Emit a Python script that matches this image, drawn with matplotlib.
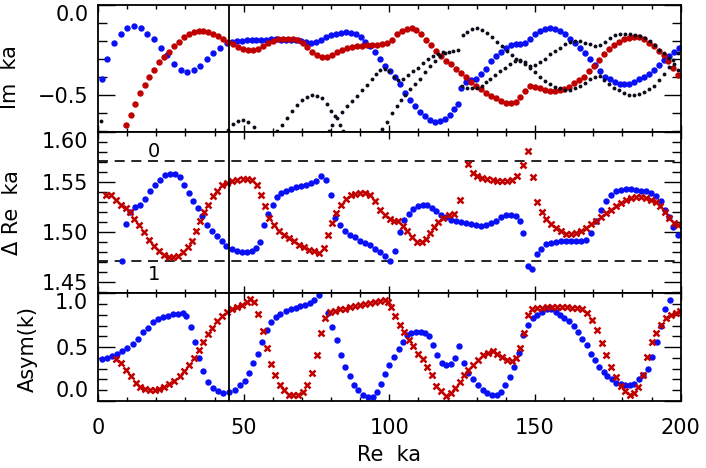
import matplotlib
matplotlib.use("Agg")
import matplotlib.pyplot as plt
from matplotlib.ticker import MultipleLocator

plt.rcParams['font.family'] = ['DejaVu Sans']

# ---- data: (Re ka, value) per resonance ----
# top panel: Im ka
im_blue = [
    (1.3, -0.41), (3.2, -0.30), (5.5, -0.21), (7.8, -0.16), (10.1, -0.13), (12.4, -0.12),
    (14.6, -0.13), (16.9, -0.16), (19.2, -0.19), (21.5, -0.24), (23.8, -0.28), (26.1, -0.33),
    (28.4, -0.36), (30.6, -0.375), (32.8, -0.365), (35.0, -0.34), (37.3, -0.30), (39.6, -0.27),
    (41.9, -0.24), (44.2, -0.215), (45.9, -0.205), (47.6, -0.20), (49.3, -0.20), (51.0, -0.198),
    (52.7, -0.197), (54.4, -0.196), (56.1, -0.195), (57.8, -0.194), (59.5, -0.193), (61.2, -0.193),
    (62.9, -0.194), (64.6, -0.195), (66.3, -0.196), (68.0, -0.198), (69.7, -0.20), (71.4, -0.205),
    (73.1, -0.21), (74.8, -0.205), (76.5, -0.195), (78.2, -0.18), (79.9, -0.17), (81.6, -0.16),
    (83.3, -0.155), (85.0, -0.15), (86.7, -0.155), (88.4, -0.165), (90.1, -0.18), (91.8, -0.205),
    (93.5, -0.23), (95.2, -0.26), (96.9, -0.30), (98.6, -0.34), (100.3, -0.37), (102.0, -0.40),
    (103.7, -0.44), (105.4, -0.49), (107.1, -0.53), (108.8, -0.565), (110.5, -0.595), (112.2, -0.62),
    (113.9, -0.64), (115.6, -0.65), (117.3, -0.645), (119.0, -0.635), (120.7, -0.61), (122.3, -0.58),
    (123.4, -0.55), (124.6, -0.46), (126.3, -0.43), (128.0, -0.42), (129.7, -0.41), (131.4, -0.385),
    (133.1, -0.355), (134.8, -0.315), (136.5, -0.285), (138.2, -0.26), (139.9, -0.24), (141.6, -0.222),
    (143.3, -0.218), (145.0, -0.218), (146.7, -0.212), (148.4, -0.19), (150.1, -0.165), (151.8, -0.148),
    (153.5, -0.137), (155.2, -0.131), (156.9, -0.136), (158.6, -0.146), (160.3, -0.165), (162.0, -0.19),
    (163.7, -0.215), (165.4, -0.24), (167.1, -0.27), (168.8, -0.30), (170.5, -0.335), (172.2, -0.37),
    (173.9, -0.40), (175.6, -0.415), (177.3, -0.43), (179.0, -0.44), (180.7, -0.44), (182.4, -0.44),
    (184.1, -0.43), (185.8, -0.415), (187.5, -0.40), (189.2, -0.385), (190.9, -0.36), (192.6, -0.335),
    (194.3, -0.305), (196.0, -0.285), (197.7, -0.26), (199.4, -0.24),
]
im_red = [
    (9.6, -0.67), (11.2, -0.61), (12.8, -0.55), (14.4, -0.49), (16.0, -0.445), (17.6, -0.40),
    (19.2, -0.36), (20.9, -0.32), (22.6, -0.29), (24.3, -0.26), (26.0, -0.23), (27.7, -0.205),
    (29.4, -0.18), (31.1, -0.163), (32.8, -0.152), (34.5, -0.146), (36.2, -0.146), (37.9, -0.152),
    (39.6, -0.163), (41.3, -0.175), (43.0, -0.19), (44.7, -0.205), (46.4, -0.22), (48.1, -0.235),
    (49.8, -0.245), (51.5, -0.253), (53.2, -0.253), (54.9, -0.245), (56.6, -0.232), (58.3, -0.215),
    (60.0, -0.20), (61.7, -0.193), (63.4, -0.189), (65.1, -0.188), (66.8, -0.19), (68.5, -0.198),
    (70.2, -0.212), (71.9, -0.235), (73.6, -0.26), (75.3, -0.28), (77.0, -0.29), (78.7, -0.288),
    (80.4, -0.278), (82.1, -0.265), (83.8, -0.252), (85.5, -0.243), (87.2, -0.236), (88.9, -0.232),
    (90.6, -0.229), (92.3, -0.226), (94.0, -0.224), (95.7, -0.222), (97.4, -0.218), (99.1, -0.212),
    (100.8, -0.195), (102.5, -0.165), (104.2, -0.145), (105.9, -0.133), (107.6, -0.13), (109.3, -0.14),
    (111.0, -0.165), (112.7, -0.195), (114.4, -0.225), (116.1, -0.255), (117.8, -0.285), (119.5, -0.31),
    (121.2, -0.33), (122.9, -0.355), (124.6, -0.38), (126.3, -0.40), (128.0, -0.43), (129.7, -0.45),
    (131.4, -0.47), (133.1, -0.49), (134.8, -0.505), (136.5, -0.52), (138.2, -0.535), (139.9, -0.545),
    (141.6, -0.545), (143.3, -0.54), (145.0, -0.515), (146.6, -0.48), (148.2, -0.45), (149.9, -0.455),
    (151.6, -0.465), (153.3, -0.473), (155.0, -0.478), (156.7, -0.48), (158.4, -0.476), (160.1, -0.467),
    (161.8, -0.455), (163.5, -0.437), (165.2, -0.42), (166.9, -0.40), (168.6, -0.37), (170.3, -0.34),
    (172.0, -0.305), (173.7, -0.275), (175.4, -0.248), (177.1, -0.225), (178.8, -0.205), (180.5, -0.192),
    (182.2, -0.183), (183.9, -0.18), (185.6, -0.18), (187.3, -0.19), (189.0, -0.21), (190.7, -0.23),
    (192.4, -0.255), (194.1, -0.28), (195.8, -0.31), (197.5, -0.35), (199.2, -0.39),
]
# other (black) branches of Im ka
im_black_a = [(0.9, -0.645)]
im_black_b = [(44.5, -0.695), (46.2, -0.66), (48.0, -0.645), (49.8, -0.64), (51.6, -0.65), (53.4, -0.68)]
im_black_c = [
    (61.4, -0.70), (63.0, -0.67), (64.7, -0.63), (66.5, -0.59), (68.2, -0.555), (69.9, -0.53),
    (71.6, -0.51), (73.4, -0.50), (75.1, -0.505), (76.8, -0.52), (78.5, -0.55), (80.0, -0.59),
    (81.4, -0.62), (83.1, -0.67), (84.2, -0.70),
]
im_black_d = [
    (79.2, -0.70), (80.4, -0.67), (82.0, -0.63), (83.7, -0.595), (85.4, -0.565), (87.1, -0.535),
    (88.8, -0.505), (90.5, -0.475), (92.2, -0.445), (93.9, -0.415), (95.5, -0.385), (96.9, -0.36),
    (98.5, -0.357), (100.0, -0.37), (101.5, -0.40), (103.1, -0.42), (104.8, -0.41), (106.5, -0.39),
    (108.2, -0.37), (110.0, -0.35), (111.7, -0.325), (113.4, -0.30), (115.1, -0.283), (116.8, -0.272),
    (118.5, -0.265), (120.3, -0.26), (122.0, -0.257), (123.7, -0.25),
]
im_black_e = [
    (97.4, -0.69), (99.1, -0.65), (100.8, -0.60), (102.5, -0.56), (103.9, -0.53), (105.4, -0.50),
    (107.1, -0.47), (108.8, -0.44), (110.5, -0.41), (112.2, -0.375), (114.0, -0.34), (115.7, -0.31),
    (117.4, -0.285), (119.1, -0.27),
]
im_black_f = [
    (125.4, -0.17), (126.8, -0.15), (128.3, -0.135), (130.0, -0.13), (131.7, -0.138), (133.4, -0.158),
    (135.1, -0.18), (136.8, -0.205), (138.6, -0.23), (140.3, -0.255), (142.0, -0.28), (143.5, -0.30),
    (144.9, -0.31), (146.6, -0.33), (148.3, -0.35), (150.0, -0.375), (151.8, -0.40), (153.5, -0.424),
    (155.2, -0.44), (156.9, -0.455), (158.6, -0.465), (160.3, -0.472), (162.0, -0.475), (163.7, -0.465),
    (165.5, -0.45), (167.2, -0.435), (168.9, -0.415), (170.6, -0.40), (172.2, -0.398), (173.8, -0.42),
    (175.5, -0.44), (177.2, -0.46), (178.9, -0.475), (180.6, -0.49), (182.4, -0.50), (184.1, -0.50),
    (185.8, -0.495), (187.5, -0.485), (189.2, -0.47), (190.9, -0.45), (192.6, -0.42), (194.3, -0.385),
    (195.9, -0.345), (197.5, -0.305), (199.0, -0.27),
]
im_black_g = [
    (124.8, -0.45), (126.5, -0.46), (128.3, -0.465), (130.0, -0.46), (131.7, -0.45), (133.2, -0.43),
    (134.6, -0.41), (136.3, -0.39), (138.0, -0.37), (139.7, -0.35), (141.5, -0.33), (143.2, -0.31),
    (144.9, -0.305), (146.6, -0.32), (148.3, -0.34), (150.0, -0.335), (151.8, -0.32), (153.5, -0.30),
    (155.2, -0.276), (156.9, -0.257), (158.6, -0.239), (160.3, -0.22), (162.0, -0.205), (163.7, -0.20),
    (165.4, -0.202), (167.1, -0.21), (168.9, -0.22), (170.6, -0.232), (172.3, -0.225), (174.0, -0.205),
    (175.7, -0.185), (177.4, -0.17), (179.1, -0.162), (180.8, -0.16), (182.5, -0.163), (184.2, -0.168),
    (185.9, -0.175), (187.6, -0.185), (189.3, -0.20), (191.0, -0.225), (192.7, -0.25), (194.4, -0.27),
    (196.1, -0.295), (197.6, -0.33), (199.0, -0.36),
]

# middle panel: Delta Re ka
dre_blue = [
    (8.2, 1.471), (9.7, 1.508), (11.1, 1.520), (12.8, 1.525), (14.5, 1.527), (16.2, 1.533),
    (17.9, 1.541), (19.6, 1.547), (21.3, 1.552), (23.0, 1.557), (24.7, 1.558), (26.4, 1.558),
    (28.1, 1.555), (29.6, 1.547), (31.3, 1.539), (32.7, 1.531), (34.2, 1.524), (35.8, 1.516),
    (37.3, 1.507), (39.0, 1.501), (40.7, 1.496), (42.4, 1.491), (44.1, 1.486), (45.9, 1.483),
    (47.6, 1.481), (49.3, 1.480), (51.0, 1.480), (52.8, 1.481), (54.2, 1.484), (55.6, 1.490),
    (57.1, 1.507), (58.5, 1.518), (60.0, 1.527), (61.4, 1.535), (62.8, 1.539), (64.5, 1.541),
    (66.2, 1.543), (67.9, 1.545), (69.7, 1.546), (71.4, 1.547), (73.1, 1.549), (74.8, 1.551),
    (76.5, 1.556), (78.3, 1.552), (80.0, 1.537), (81.5, 1.514), (83.1, 1.507), (84.9, 1.501),
    (86.6, 1.497), (88.3, 1.495), (89.9, 1.491), (91.6, 1.489), (93.4, 1.487), (95.1, 1.483),
    (96.8, 1.480), (98.5, 1.476), (100.2, 1.471), (102.0, 1.481), (103.7, 1.500), (105.1, 1.512),
    (106.8, 1.518), (108.2, 1.523), (110.0, 1.526), (111.4, 1.527), (113.0, 1.527), (114.5, 1.524),
    (116.0, 1.521), (117.6, 1.517), (119.3, 1.515), (121.0, 1.512), (122.8, 1.511), (124.5, 1.510),
    (126.2, 1.509), (127.9, 1.508), (129.6, 1.507), (131.3, 1.506), (133.0, 1.507), (134.8, 1.509),
    (136.5, 1.511), (138.2, 1.515), (139.9, 1.517), (141.6, 1.517), (143.4, 1.516), (144.8, 1.511),
    (146.0, 1.499), (147.5, 1.466), (149.1, 1.463), (150.6, 1.478), (152.1, 1.483), (153.7, 1.488),
    (155.4, 1.489), (157.1, 1.490), (158.8, 1.491), (160.5, 1.491), (162.2, 1.491), (163.9, 1.491),
    (165.7, 1.491), (167.4, 1.492), (169.1, 1.499), (170.8, 1.511), (172.5, 1.522), (174.3, 1.531),
    (176.0, 1.537), (177.7, 1.541), (179.4, 1.542), (181.1, 1.543), (182.8, 1.543), (184.6, 1.542),
    (186.3, 1.541), (188.0, 1.541), (189.7, 1.539), (191.4, 1.536), (193.1, 1.531), (194.6, 1.522),
    (196.1, 1.515), (197.5, 1.505), (199.0, 1.497),
]
dre_red = [
    (2.8, 1.537), (4.5, 1.537), (6.2, 1.532), (8.0, 1.527), (9.5, 1.524), (11.0, 1.520),
    (12.5, 1.513), (14.2, 1.507), (15.8, 1.500), (17.5, 1.492), (19.2, 1.486), (20.9, 1.481),
    (22.6, 1.477), (24.2, 1.475), (25.8, 1.475), (27.5, 1.476), (29.2, 1.480), (30.8, 1.485),
    (32.3, 1.491), (33.6, 1.501), (35.0, 1.511), (36.4, 1.520), (37.9, 1.527), (39.4, 1.536),
    (41.0, 1.541), (42.7, 1.547), (44.4, 1.549), (46.1, 1.551), (47.8, 1.552), (49.6, 1.553),
    (51.3, 1.553), (53.0, 1.552), (54.5, 1.547), (55.8, 1.537), (57.3, 1.526), (58.8, 1.514),
    (60.4, 1.507), (62.1, 1.501), (63.9, 1.497), (65.6, 1.494), (67.3, 1.491), (69.0, 1.487),
    (70.7, 1.485), (72.4, 1.482), (74.1, 1.481), (75.9, 1.479), (77.4, 1.484), (78.8, 1.497),
    (80.2, 1.509), (81.6, 1.519), (83.3, 1.527), (85.0, 1.533), (86.7, 1.537), (88.3, 1.538),
    (90.0, 1.539), (91.7, 1.539), (93.4, 1.537), (95.1, 1.531), (96.8, 1.522), (98.5, 1.517),
    (100.1, 1.513), (101.6, 1.511), (103.1, 1.511), (104.6, 1.506), (106.2, 1.501), (107.7, 1.495),
    (109.4, 1.490), (111.1, 1.490), (112.6, 1.493), (114.0, 1.499), (115.4, 1.505), (116.8, 1.510),
    (118.5, 1.514), (120.4, 1.517), (122.2, 1.518), (124.3, 1.532), (127.1, 1.568), (128.6, 1.559),
    (130.2, 1.556), (131.9, 1.554), (133.6, 1.553), (135.4, 1.552), (137.1, 1.551), (138.8, 1.551),
    (140.5, 1.551), (142.2, 1.552), (143.7, 1.556), (145.8, 1.567), (147.5, 1.581), (149.2, 1.555),
    (150.6, 1.530), (152.3, 1.520), (153.8, 1.513), (155.4, 1.508), (157.1, 1.504), (158.8, 1.501),
    (160.5, 1.498), (162.2, 1.498), (163.9, 1.499), (165.7, 1.501), (167.4, 1.504), (169.1, 1.508),
    (170.8, 1.511), (172.5, 1.515), (174.3, 1.519), (176.0, 1.522), (177.7, 1.526), (179.4, 1.529),
    (181.1, 1.532), (182.8, 1.534), (184.6, 1.535), (186.3, 1.535), (188.0, 1.534), (189.7, 1.532),
    (191.4, 1.530), (192.9, 1.526), (194.6, 1.520), (196.1, 1.514), (197.7, 1.509), (199.2, 1.507),
]
dre_levels = [1.5708, 1.4708]
dre_level_names = ['0', '1']
dre_level_label_pos = [(19.2, 1.5806), (19.2, 1.4573)]

# bottom panel: Asym(k)
asym_blue = [
    (1.3, 0.39), (3.0, 0.40), (4.7, 0.42), (6.4, 0.44), (8.2, 0.46), (10.1, 0.49), (11.9, 0.53),
    (13.6, 0.58), (15.3, 0.64), (17.1, 0.68), (18.8, 0.73), (20.5, 0.76), (22.2, 0.78), (24.0, 0.79),
    (25.7, 0.81), (27.4, 0.81), (29.1, 0.815), (30.2, 0.79), (31.8, 0.69), (33.3, 0.55), (34.8, 0.40),
    (36.2, 0.28), (37.9, 0.18), (39.6, 0.12), (41.3, 0.09), (43.0, 0.075), (44.9, 0.08), (47.1, 0.10),
    (48.6, 0.15), (50.3, 0.19), (51.8, 0.26), (53.3, 0.35), (54.9, 0.44), (56.4, 0.55), (57.9, 0.66),
    (59.5, 0.73), (61.1, 0.78), (62.6, 0.81), (64.4, 0.84), (66.1, 0.85), (67.8, 0.86), (69.5, 0.88),
    (71.1, 0.89), (72.8, 0.91), (74.3, 0.94), (75.7, 0.98), (79.0, 0.815), (80.3, 0.69), (82.1, 0.57),
    (83.4, 0.43), (84.9, 0.32), (86.5, 0.23), (87.9, 0.15), (89.4, 0.10), (91.1, 0.056), (92.8, 0.035),
    (94.3, 0.035), (95.7, 0.08), (97.1, 0.16), (98.6, 0.25), (100.0, 0.33), (101.6, 0.41), (103.2, 0.48),
    (104.6, 0.55), (106.0, 0.61), (107.4, 0.63), (109.0, 0.64), (110.8, 0.64), (112.2, 0.63),
    (113.7, 0.60), (115.1, 0.52), (116.5, 0.43), (118.0, 0.35), (119.5, 0.33), (121.1, 0.34),
    (122.5, 0.40), (124.0, 0.51), (125.7, 0.35), (127.1, 0.26), (128.8, 0.20), (130.5, 0.15),
    (132.0, 0.10), (133.6, 0.07), (135.1, 0.056), (136.8, 0.06), (138.3, 0.08), (139.8, 0.15),
    (141.4, 0.22), (142.9, 0.32), (144.5, 0.45), (146.0, 0.61), (147.7, 0.71), (149.2, 0.77),
    (150.8, 0.80), (152.3, 0.83), (154.0, 0.85), (155.5, 0.85), (157.1, 0.83), (158.6, 0.80),
    (160.1, 0.77), (161.6, 0.74), (163.2, 0.70), (164.6, 0.64), (166.2, 0.58), (167.7, 0.52),
    (169.1, 0.44), (170.6, 0.38), (172.1, 0.32), (173.5, 0.27), (174.8, 0.23), (176.3, 0.20),
    (177.8, 0.17), (179.4, 0.16), (180.9, 0.15), (182.6, 0.15), (184.1, 0.155), (185.6, 0.20),
    (187.2, 0.24), (188.7, 0.30), (190.3, 0.41), (191.8, 0.55), (193.1, 0.70), (194.6, 0.85),
    (196.3, 0.94),
]
asym_red = [
    (6.2, 0.39), (8.0, 0.35), (9.7, 0.29), (11.2, 0.23), (12.9, 0.17), (14.4, 0.13), (16.1, 0.11),
    (17.8, 0.10), (19.5, 0.10), (21.1, 0.11), (22.8, 0.13), (24.5, 0.16), (26.2, 0.19), (28.0, 0.23),
    (29.6, 0.28), (31.4, 0.33), (33.1, 0.40), (34.8, 0.47), (36.2, 0.55), (37.6, 0.62), (39.0, 0.68),
    (40.8, 0.74), (42.5, 0.79), (44.2, 0.83), (45.9, 0.855), (47.6, 0.87), (49.3, 0.89), (51.0, 0.92),
    (52.2, 0.95), (53.6, 0.92), (55.0, 0.81), (56.6, 0.65), (58.0, 0.49), (59.3, 0.34), (60.8, 0.24),
    (62.3, 0.15), (64.0, 0.10), (65.6, 0.06), (67.1, 0.055), (68.6, 0.06), (70.2, 0.08), (71.9, 0.15),
    (73.6, 0.26), (75.2, 0.43), (76.5, 0.63), (78.0, 0.77), (79.6, 0.83), (81.4, 0.84), (83.1, 0.85),
    (84.8, 0.855), (86.5, 0.87), (88.2, 0.88), (89.9, 0.89), (91.6, 0.90), (93.4, 0.91), (95.1, 0.92),
    (96.8, 0.93), (98.5, 0.94), (99.7, 0.92), (100.6, 0.87), (102.0, 0.79), (103.7, 0.71),
    (105.1, 0.64), (106.8, 0.57), (108.2, 0.51), (110.0, 0.44), (111.4, 0.39), (113.0, 0.32),
    (114.5, 0.24), (116.0, 0.14), (117.6, 0.09), (119.3, 0.05), (121.1, 0.07), (122.5, 0.12),
    (124.3, 0.18), (125.7, 0.24), (127.1, 0.29), (128.8, 0.33), (130.5, 0.38), (132.0, 0.43),
    (133.7, 0.45), (135.5, 0.46), (136.8, 0.44), (138.6, 0.41), (140.3, 0.38), (142.0, 0.37),
    (143.4, 0.40), (144.8, 0.49), (146.2, 0.63), (147.5, 0.80), (148.9, 0.855), (150.6, 0.86),
    (152.3, 0.86), (154.0, 0.87), (155.7, 0.87), (157.4, 0.87), (159.1, 0.87), (160.9, 0.87),
    (162.6, 0.868), (164.3, 0.86), (166.0, 0.85), (167.7, 0.82), (169.5, 0.75), (171.2, 0.66),
    (172.9, 0.54), (174.4, 0.43), (176.1, 0.32), (177.8, 0.22), (179.4, 0.14), (181.0, 0.09),
    (182.6, 0.055), (184.0, 0.07), (185.5, 0.13), (187.0, 0.24), (188.3, 0.41), (190.0, 0.55),
    (191.5, 0.63), (193.1, 0.71), (194.8, 0.77), (196.5, 0.80), (198.3, 0.82), (199.8, 0.84),
]

marked_re_ka = 45.0

x_ticks = [0, 50, 100, 150, 200]
im_ticks = [-0.5, 0.0]
im_tick_labels = ['\u22120.5', '0.0']
dre_ticks = [1.45, 1.50, 1.55, 1.60]
dre_tick_labels = ['1.45', '1.50', '1.55', '1.60']
asym_ticks = [0.0, 0.5, 1.0]
asym_tick_labels = ['0.0', '0.5', '1.0']

BLUE = '#0a10f5'
RED = '#c00000'
BLACK = '#0c0c1c'


def xy(points):
    xs, ys = zip(*points)
    return list(xs), list(ys)


def style_axes(ax, minor_y):
    for s in ax.spines.values():
        s.set_linewidth(1.3)
    ax.set_xlim(0, 200)
    ax.set_xticks(x_ticks)
    ax.xaxis.set_minor_locator(MultipleLocator(10))
    ax.yaxis.set_minor_locator(MultipleLocator(minor_y))
    ax.tick_params(which='both', direction='in', top=True, right=True, width=1.0)
    ax.tick_params(axis='y', which='major', length=12.5, pad=7, labelsize=15)
    ax.tick_params(axis='y', which='minor', length=6.5)
    ax.tick_params(axis='x', which='major', length=5, pad=12, labelsize=15)
    ax.tick_params(axis='x', which='minor', length=2.7)
    ax.axvline(marked_re_ka, color='black', lw=1.3, zorder=5)


fig = plt.figure(figsize=(7.06, 4.68), dpi=100)
left, width = 0.1388, 0.8254
ax_im = fig.add_axes([left, 0.7186, width, 0.2714])
ax_dre = fig.add_axes([left, 0.3733, width, 0.3453])
ax_as = fig.add_axes([left, 0.1432, width, 0.2301])

dot = dict(ls='none', marker='o', ms=4.6, mew=0)
cross = dict(ls='none', marker='x', ms=5.0, mew=1.8)

# top: Im ka
ax_im.plot(*xy(im_blue), color=BLUE, **dot)
ax_im.plot(*xy(im_red), color=RED, **dot)
for branch in [im_black_a, im_black_b, im_black_c, im_black_d, im_black_e, im_black_f, im_black_g]:
    ax_im.plot(*xy(branch), ls='none', marker='o', ms=2.8, mew=0, color=BLACK)
style_axes(ax_im, 0.1)
ax_im.set_ylim(-0.705, 0.0)
ax_im.set_yticks(im_ticks, im_tick_labels)
ax_im.tick_params(axis='x', labelbottom=False)
ax_im.get_yticklabels()[-1].set_va('top')
ax_im.set_ylabel('Im  ka', fontsize=15, va='center')
ax_im.yaxis.set_label_coords(-0.151, 0.427)

# middle: Delta Re ka
for lev, name, (tx, ty) in zip(dre_levels, dre_level_names, dre_level_label_pos):
    ax_dre.axhline(lev, color='black', lw=1.2, ls=(0, (6, 4)))
    ax_dre.text(tx, ty, name, fontsize=14, ha='center', va='center')
ax_dre.plot(*xy(dre_blue), color=BLUE, **dot)
ax_dre.plot(*xy(dre_red), color=RED, **cross)
style_axes(ax_dre, 0.01)
ax_dre.set_ylim(1.439, 1.6006)
ax_dre.set_yticks(dre_ticks, dre_tick_labels)
ax_dre.tick_params(axis='x', labelbottom=False)
ax_dre.get_yticklabels()[-1].set_va('top')
ax_dre.set_ylabel('\u0394 Re  ka', fontsize=15, va='center')
ax_dre.yaxis.set_label_coords(-0.1476, 0.497)

# bottom: Asym(k)
ax_as.plot(*xy(asym_blue), color=BLUE, **dot)
ax_as.plot(*xy(asym_red), color=RED, **cross)
style_axes(ax_as, 0.1)
ax_as.set_ylim(0.0, 1.0)
ax_as.set_yticks(asym_ticks, asym_tick_labels)
labs = ax_as.get_yticklabels()
labs[0].set_va('bottom')
labs[-1].set_va('top')
ax_as.set_ylabel('Asym(k)', fontsize=15, va='center')
ax_as.yaxis.set_label_coords(-0.120, 0.483)
ax_as.set_xlabel('Re  ka', fontsize=15, va='center')
ax_as.xaxis.set_label_coords(0.5, -0.50)

fig.savefig('out.png', dpi=100)
